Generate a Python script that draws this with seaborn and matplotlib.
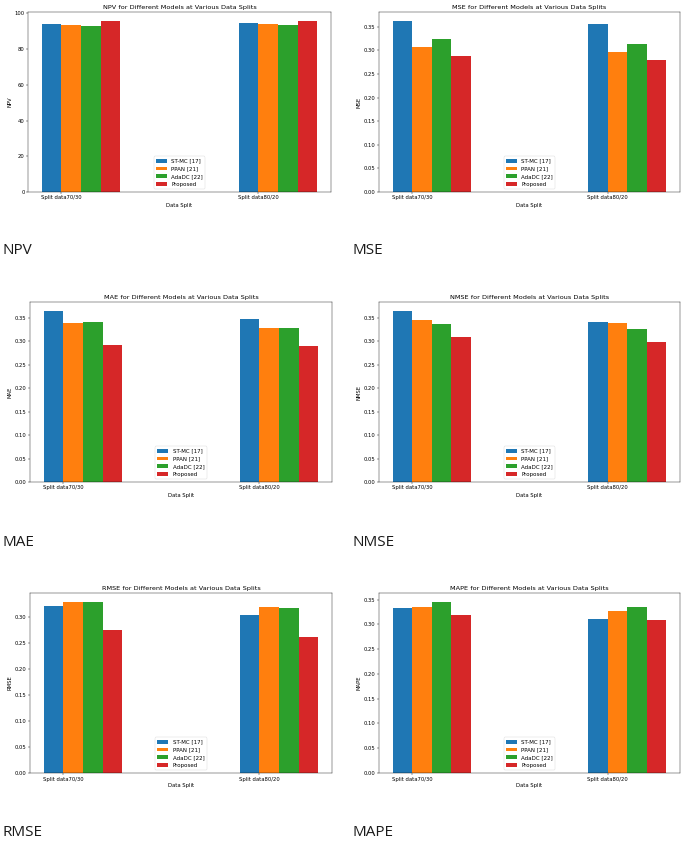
import numpy as np
import pandas as pd
import matplotlib
matplotlib.use("Agg")
import matplotlib.pyplot as plt
import seaborn as sns

splits = ["Split data70/30", "Split data80/20"]
models = ["ST-MC [17]", "PPAN [21]", "AdaDC [22]", "Proposed"]

# one list per model: [70/30, 80/20]
npv_vals = {"ST-MC [17]": [94.0, 94.5], "PPAN [21]": [93.8, 94.0],
            "AdaDC [22]": [92.7, 93.6], "Proposed": [95.7, 96.0]}
mse_vals = {"ST-MC [17]": [0.363, 0.356], "PPAN [21]": [0.308, 0.296],
            "AdaDC [22]": [0.324, 0.314], "Proposed": [0.287, 0.279]}
mae_vals = {"ST-MC [17]": [0.365, 0.346], "PPAN [21]": [0.339, 0.328],
            "AdaDC [22]": [0.340, 0.327], "Proposed": [0.292, 0.290]}
nmse_vals = {"ST-MC [17]": [0.366, 0.341], "PPAN [21]": [0.346, 0.339],
             "AdaDC [22]": [0.337, 0.327], "Proposed": [0.310, 0.298]}
rmse_vals = {"ST-MC [17]": [0.322, 0.304], "PPAN [21]": [0.329, 0.319],
             "AdaDC [22]": [0.330, 0.318], "Proposed": [0.276, 0.261]}
mape_vals = {"ST-MC [17]": [0.333, 0.310], "PPAN [21]": [0.335, 0.326],
             "AdaDC [22]": [0.346, 0.336], "Proposed": [0.318, 0.308]}

metrics = ["NPV", "MSE", "MAE", "NMSE", "RMSE", "MAPE"]
all_vals = [npv_vals, mse_vals, mae_vals, nmse_vals, rmse_vals, mape_vals]

colors = ["#1f77b4", "#ff7f0e", "#2ca02c", "#d62728"]

W, H = 685, 842
fig = plt.figure(figsize=(W / 100, H / 100), dpi=100)

s = 0.36  # the panels are scaled-down screenshots
fs = 10 * 0.375
plt.rcParams.update({
    "xtick.labelsize": fs, "ytick.labelsize": fs,
    "xtick.major.size": 3.5 * s, "ytick.major.size": 3.5 * s,
    "xtick.major.width": 0.8 * s, "ytick.major.width": 0.8 * s,
    "xtick.major.pad": 3.5 * s, "ytick.major.pad": 3.5 * s,
    "axes.linewidth": 0.8 * s, "axes.labelpad": 4 * s,
    "axes.titlepad": 6 * s,
})

# axes boxes in pixels: (left, top, right, bottom)
boxes = [(28, 12, 331, 192), (379, 12, 680, 192),
         (30, 302, 332, 482), (379, 302, 680, 482),
         (30, 593, 332, 773), (379, 593, 680, 773)]
label_pos = [(2, 251), (352, 251), (2, 543), (352, 543), (2, 833), (352, 833)]

for metric, vals, box, lp in zip(metrics, all_vals, boxes, label_pos):
    l, t, r, b = box
    ax = fig.add_axes([l / W, 1 - b / H, (r - l) / W, (b - t) / H])
    rows = []
    for m in models:
        for sp, v in zip(splits, vals[m]):
            rows.append({"split": sp, "model": m, "value": v})
    df = pd.DataFrame(rows)
    sns.barplot(data=df, x="split", y="value", hue="model", hue_order=models,
                palette=colors, saturation=1, width=0.4, linewidth=0,
                errorbar=None, ax=ax)
    ax.set_xlim(-0.27, 1.27)
    ax.set_xticks(np.arange(len(splits)) - 0.1)
    ax.set_xticklabels(splits)
    ax.set_title(f"{metric} for Different Models at Various Data Splits", fontsize=12 * 0.39)
    ax.set_xlabel("Data Split", fontsize=fs)
    ax.set_ylabel(metric, fontsize=fs)
    sns.move_legend(ax, "lower center", title=None, fontsize=10 * 0.4,
                    frameon=True)
    leg = ax.get_legend()
    leg.get_frame().set_linewidth(0.8 * s)
    fig.text(lp[0] / W, 1 - lp[1] / H, metric, fontsize=11,
             family=["Open Sans", "DejaVu Sans"], color="#1a1a1a",
             va="center", ha="left")

fig.savefig("out.png", dpi=100)
